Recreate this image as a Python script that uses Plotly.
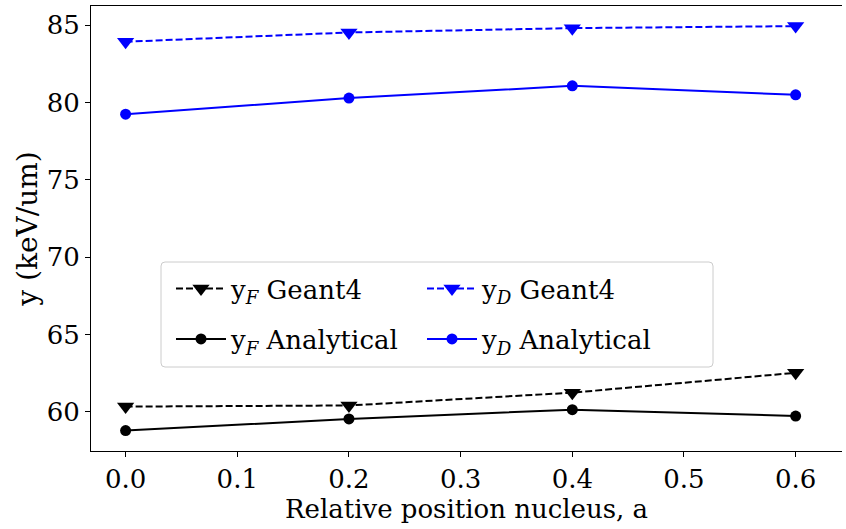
import plotly.graph_objects as go

x_pos = [0.0, 0.2, 0.4, 0.6]
yF_geant4 = [60.35, 60.42, 61.25, 62.53]
yF_analytical = [58.80, 59.55, 60.15, 59.74]
yD_geant4 = [83.92, 84.52, 84.80, 84.93]
yD_analytical = [79.24, 80.28, 81.07, 80.49]

x_ticks = [0.0, 0.1, 0.2, 0.3, 0.4, 0.5, 0.6]
y_ticks = [60, 65, 70, 75, 80, 85]

FONT = "DejaVu Serif"
FS = 26

fig = go.Figure()
fig.add_trace(go.Scatter(
    x=x_pos, y=yF_geant4, mode="lines+markers",
    name="y<sub><i>F</i></sub> Geant4", legend="legend",
    line=dict(color="black", width=2, dash="7px,3px"),
    marker=dict(symbol="triangle-down", size=15, color="black")))
fig.add_trace(go.Scatter(
    x=x_pos, y=yD_geant4, mode="lines+markers",
    name="y<sub><i>D</i></sub> Geant4", legend="legend",
    line=dict(color="blue", width=2, dash="7px,3px"),
    marker=dict(symbol="triangle-down", size=15, color="blue")))
fig.add_trace(go.Scatter(
    x=x_pos, y=yF_analytical, mode="lines+markers",
    name="y<sub><i>F</i></sub> Analytical", legend="legend2",
    line=dict(color="black", width=2),
    marker=dict(symbol="circle", size=11, color="black")))
fig.add_trace(go.Scatter(
    x=x_pos, y=yD_analytical, mode="lines+markers",
    name="y<sub><i>D</i></sub> Analytical", legend="legend2",
    line=dict(color="blue", width=2),
    marker=dict(symbol="circle", size=11, color="blue")))

# plot area: x 91..842, y 6..451
PW, PH = 751.0, 445.0
def px(v):
    return (v - 91) / PW
def py(v):
    return (451 - v) / PH

legend_common = dict(
    orientation="h", xanchor="left", yanchor="middle",
    bgcolor="rgba(0,0,0,0)", borderwidth=0,
    font=dict(family=FONT, size=FS),
    entrywidth=186, entrywidthmode="pixels",
    itemwidth=50,
)

# rounded legend frame
x0, x1, y0, y1 = px(161), px(713), py(367), py(262)
rx, ry = 4 / PW, 4 / PH
frame = (f"M {x0+rx},{y0} L {x1-rx},{y0} Q {x1},{y0} {x1},{y0+ry} "
         f"L {x1},{y1-ry} Q {x1},{y1} {x1-rx},{y1} "
         f"L {x0+rx},{y1} Q {x0},{y1} {x0},{y1-ry} "
         f"L {x0},{y0+ry} Q {x0},{y0} {x0+rx},{y0} Z")

fig.update_layout(
    width=846, height=529,
    margin=dict(l=91, r=4, t=6, b=78),
    plot_bgcolor="white", paper_bgcolor="white",
    font=dict(family=FONT, size=FS, color="black"),
    showlegend=True,
    legend=dict(x=px(171), y=py(288.5), **legend_common),
    legend2=dict(x=px(171), y=py(339), **legend_common),
    shapes=[dict(type="path", xref="paper", yref="paper", path=frame,
                 fillcolor="rgba(255,255,255,0.8)",
                 line=dict(color="#cccccc", width=1), layer="above")],
)
fig.update_xaxes(
    range=[-0.031, 0.6415],
    tickvals=x_ticks, tickformat=".1f",
    showgrid=False, zeroline=False,
    showline=True, linecolor="black", linewidth=1, mirror=True,
    ticks="outside", ticklen=5, tickcolor="black", tickwidth=1,
    title=dict(text="Relative position nucleus, a", standoff=6,
               font=dict(size=26)),
)
fig.update_yaxes(
    range=[57.48, 86.23],
    tickvals=y_ticks,
    showgrid=False, zeroline=False,
    showline=True, linecolor="black", linewidth=1,
    ticks="outside", ticklen=5, tickcolor="black", tickwidth=1,
    title=dict(text="y (keV/um)", standoff=0, font=dict(size=28)),
)

fig.write_html("out.html")
